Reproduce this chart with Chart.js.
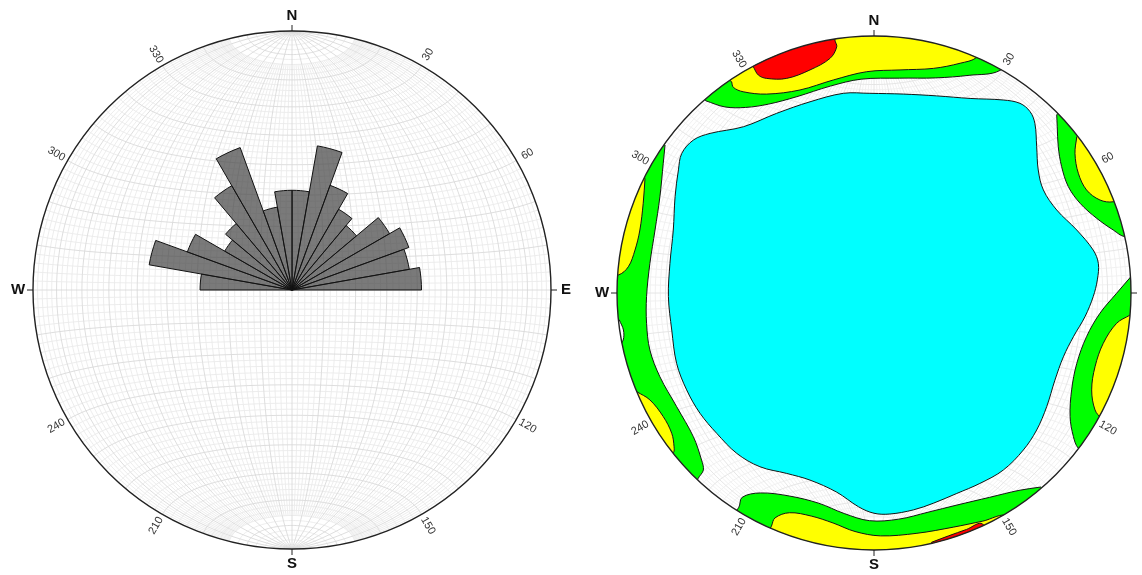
<!DOCTYPE html>
<html>
<head>
<meta charset="utf-8">
<script src="https://cdn.jsdelivr.net/npm/chart.js@4.4.1/dist/chart.umd.min.js"></script>
<style>
  html, body { margin: 0; padding: 0; background: #fff; }
  body { width: 1142px; height: 575px; position: relative; overflow: hidden; }
  .panel { position: absolute; top: 0; }
  #rose_wrap { left: 0; width: 584px; height: 580px; }
  #density_wrap { left: 584px; width: 558px; height: 575px; }
</style>
</head>
<body>
<div class="panel" id="rose_wrap"><canvas id="rose_chart"></canvas></div>
<div class="panel" id="density_wrap"><canvas id="density_chart"></canvas></div>
<script>
// ---- rose diagram: 10 degree azimuth bins, length in % of the net radius
const binStarts = [0, 10, 20, 30, 40, 50, 60, 70, 80, 90, 100, 110, 120, 130, 140, 150, 160, 170,
  180, 190, 200, 210, 220, 230, 240, 250, 260, 270, 280, 290, 300, 310, 320, 330, 340, 350];
const roseValues = [38.5, 56.5, 43, 36, 32.5, 43.5, 48, 46, 50,
  0, 0, 0, 0, 0, 0, 0, 0, 0, 0, 0, 0, 0, 0, 0, 0, 0, 0,
  35.5, 56, 43, 30, 33.5, 46.5, 58.5, 32.5, 38.5];

// ---- labels round the primitive circle
const cardinalAz = [0, 90, 180, 270];
const cardinalLabels = ['N', 'E', 'S', 'W'];
const degreeTicks = [30, 60, 120, 150, 210, 240, 300, 330];

// ---- density contours, net coordinates [x east, y north], primitive radius = 1
const cyanCore = [[-0.016, 0.777], [0.114, 0.774], [0.244, 0.767], [0.374, 0.757], [0.503, 0.751], [0.568, 0.738],
  [0.607, 0.706], [0.626, 0.660], [0.633, 0.569], [0.639, 0.479], [0.659, 0.401], [0.711, 0.323], [0.789, 0.245],
  [0.853, 0.167], [0.873, 0.115], [0.869, 0.051], [0.853, -0.014], [0.821, -0.092], [0.776, -0.170], [0.737, -0.248],
  [0.704, -0.339], [0.672, -0.442], [0.633, -0.533], [0.581, -0.611], [0.503, -0.689], [0.412, -0.741], [0.322, -0.780],
  [0.231, -0.818], [0.153, -0.844], [0.062, -0.860], [0.0, -0.857], [-0.06, -0.832], [-0.145, -0.775], [-0.249, -0.728],
  [-0.340, -0.702], [-0.444, -0.676], [-0.534, -0.624], [-0.612, -0.546], [-0.677, -0.468], [-0.729, -0.377],
  [-0.768, -0.274], [-0.787, -0.144], [-0.800, -0.014], [-0.794, 0.115], [-0.781, 0.245], [-0.774, 0.375],
  [-0.761, 0.479], [-0.748, 0.543], [-0.703, 0.595], [-0.638, 0.621], [-0.508, 0.647], [-0.379, 0.699],
  [-0.249, 0.744], [-0.119, 0.777]];

const greenNorth = [[-0.655, 0.748], [-0.58, 0.724], [-0.50, 0.722], [-0.41, 0.735], [-0.30, 0.764], [-0.17, 0.805],
  [-0.05, 0.832], [0.10, 0.836], [0.24, 0.837], [0.37, 0.847], [0.49, 0.866],
  [0.609, 0.975], [0, 1.2], [-0.739, 0.881]];
const greenNorthEast = [[0.711, 0.693], [0.713, 0.647], [0.717, 0.569], [0.730, 0.492], [0.756, 0.414], [0.802, 0.349],
  [0.866, 0.291], [0.931, 0.245], [0.977, 0.219],
  [1.129, 0.219], [1.060, 0.563], [0.813, 0.813]];
const greenEast = [[1.0, 0.064], [0.944, -0.001], [0.879, -0.079], [0.827, -0.170], [0.789, -0.274], [0.769, -0.377],
  [0.763, -0.481], [0.776, -0.559], [0.795, -0.604],
  [0.906, -0.708], [1.148, -0.351], [1.147, 0.080]];
const greenSouth = [[0.649, -0.755], [0.564, -0.768], [0.45, -0.795], [0.323, -0.825], [0.21, -0.853], [0.096, -0.880],
  [-0.017, -0.886], [-0.116, -0.858], [-0.215, -0.818], [-0.329, -0.790], [-0.442, -0.778], [-0.513, -0.795],
  [-0.527, -0.836],
  [-0.626, -0.964], [0, -1.2], [0.754, -0.868]];
const greenWest = [[-0.813, 0.576], [-0.820, 0.505], [-0.833, 0.375], [-0.852, 0.245], [-0.872, 0.115], [-0.885, -0.014],
  [-0.885, -0.118], [-0.872, -0.222], [-0.833, -0.326], [-0.768, -0.442], [-0.703, -0.559], [-0.671, -0.650],
  [-0.664, -0.689], [-0.684, -0.721],
  [-0.754, -0.868], [-1.195, -0.105], [-0.930, 0.676]];

const yellowNorth = [[-0.554, 0.822], [-0.547, 0.800], [-0.509, 0.783], [-0.418, 0.774], [-0.288, 0.790], [-0.158, 0.829],
  [-0.029, 0.861], [0.101, 0.868], [0.231, 0.874], [0.335, 0.894], [0.400, 0.917],
  [0.504, 1.034], [0, 1.2], [-0.676, 0.930]];
const yellowNorthEast = [[0.789, 0.608], [0.782, 0.543], [0.795, 0.466], [0.827, 0.401], [0.879, 0.362], [0.931, 0.355],
  [1.081, 0.393], [0.906, 0.708]];
const yellowEast = [[0.996, -0.086], [0.944, -0.118], [0.892, -0.196], [0.860, -0.287], [0.847, -0.377], [0.860, -0.455],
  [0.886, -0.488],
  [0.996, -0.575], [1.146, -0.100]];
const yellowSouth = [[-0.399, -0.907], [-0.385, -0.875], [-0.329, -0.855], [-0.244, -0.868], [-0.159, -0.895],
  [-0.074, -0.928], [0.025, -0.945], [0.167, -0.935], [0.309, -0.911], [0.422, -0.888], [0.521, -0.868],
  [0.592, -0.986], [0, -1.2], [-0.468, -1.051]];
const yellowWestUpper = [[-0.891, 0.446], [-0.898, 0.349], [-0.911, 0.245], [-0.930, 0.167], [-0.956, 0.102], [-0.995, 0.070],
  [-1.149, 0.040], [-1.025, 0.522]];
const yellowWestLower = [[-0.923, -0.384], [-0.872, -0.416], [-0.820, -0.481], [-0.787, -0.546], [-0.778, -0.598], [-0.781, -0.621],
  [-0.894, -0.724], [-1.066, -0.431]];

const redNorth = [[-0.470, 0.881], [-0.450, 0.848], [-0.418, 0.835], [-0.340, 0.835], [-0.249, 0.868], [-0.171, 0.913],
  [-0.145, 0.958], [-0.152, 0.984],
  [-0.160, 1.139], [-0.558, 1.006]];
const redSouth = [[0.224, -0.970], [0.29, -0.945], [0.36, -0.920], [0.422, -0.899],
  [0.504, -1.034], [0.259, -1.121]];

const gapWest = [[-0.991, -0.105], [-0.975, -0.144], [-0.976, -0.183], [-0.995, -0.205],
  [-1.076, -0.229], [-1.094, -0.115]];

// ---- equal-area net
function netPoint(lon, lat) {
  const l = lon * Math.PI / 180, p = lat * Math.PI / 180;
  const x = Math.cos(p) * Math.sin(l), y = Math.sin(p), z = Math.cos(p) * Math.cos(l);
  const k = Math.sqrt(1 / (1 + z));
  return [x * k, y * k];
}

function drawNet(ctx, cx, cy, R, minorColor, majorColor) {
  ctx.save();
  ctx.lineWidth = 0.8;
  [false, true].forEach(majorPass => {
    ctx.strokeStyle = majorPass ? majorColor : minorColor;
    // small circles
    for (let lat = -88; lat <= 88; lat += 2) {
      if ((lat % 10 === 0) !== majorPass) continue;
      ctx.beginPath();
      for (let lon = -90; lon <= 90; lon += 2) {
        const [x, y] = netPoint(lon, lat);
        if (lon === -90) ctx.moveTo(cx + x * R, cy - y * R);
        else ctx.lineTo(cx + x * R, cy - y * R);
      }
      ctx.stroke();
    }
    // great circles
    for (let lon = -88; lon <= 88; lon += 2) {
      if ((lon % 10 === 0) !== majorPass) continue;
      const lim = majorPass ? 90 : 76;
      ctx.beginPath();
      for (let lat = -lim; lat <= lim; lat += 2) {
        const [x, y] = netPoint(lon, lat);
        if (lat === -lim) ctx.moveTo(cx + x * R, cy - y * R);
        else ctx.lineTo(cx + x * R, cy - y * R);
      }
      ctx.stroke();
    }
  });
  ctx.restore();
}

function drawFrame(ctx, cx, cy, R) {
  ctx.save();
  ctx.strokeStyle = '#222';
  ctx.lineWidth = 1.4;
  ctx.beginPath();
  ctx.arc(cx, cy, R, 0, 2 * Math.PI);
  ctx.stroke();

  ctx.lineWidth = 1;
  ctx.fillStyle = '#111';
  ctx.textAlign = 'center';
  ctx.textBaseline = 'middle';
  ctx.font = 'bold 15px "Liberation Sans", Arial, sans-serif';
  cardinalAz.forEach((az, i) => {
    const a = az * Math.PI / 180, sx = Math.sin(a), sy = -Math.cos(a);
    ctx.beginPath();
    ctx.moveTo(cx + sx * R, cy + sy * R);
    ctx.lineTo(cx + sx * (R + 6), cy + sy * (R + 6));
    ctx.stroke();
    ctx.fillText(cardinalLabels[i], cx + sx * (R + 15), cy + sy * (R + 15));
  });

  ctx.font = '11px "Liberation Sans", Arial, sans-serif';
  ctx.fillStyle = '#333';
  degreeTicks.forEach(az => {
    const a = az * Math.PI / 180;
    let rot = (((az - 90) % 180) + 180) % 180;
    if (rot > 90) rot -= 180;
    ctx.save();
    ctx.translate(cx + Math.sin(a) * (R + 13), cy - Math.cos(a) * (R + 13));
    ctx.rotate(rot * Math.PI / 180);
    ctx.fillText(String(az), 0, 0);
    ctx.restore();
  });
  ctx.restore();
}

// ---- left: rose diagram on the net
const roseNet = {
  id: 'roseNet',
  beforeDatasetsDraw(chart) {
    const s = chart.scales.r;
    drawNet(chart.ctx, s.xCenter, s.yCenter, s.drawingArea, '#e9e9e9', '#d5d5d5');
  },
  afterDraw(chart) {
    const s = chart.scales.r;
    drawFrame(chart.ctx, s.xCenter, s.yCenter, s.drawingArea);
  }
};

new Chart(document.getElementById('rose_chart'), {
  type: 'polarArea',
  data: {
    labels: binStarts.map(a => a + '°'),
    datasets: [{
      data: roseValues,
      backgroundColor: 'rgba(70,70,70,0.72)',
      borderColor: '#111',
      borderWidth: 1
    }]
  },
  options: {
    responsive: true,
    maintainAspectRatio: false,
    animation: false,
    layout: { padding: { left: 33, right: 33, top: 31, bottom: 31 } },
    scales: {
      r: {
        min: 0, max: 100,
        ticks: { display: false },
        grid: { display: false },
        angleLines: { display: false },
        pointLabels: { display: false }
      }
    },
    plugins: { legend: { display: false }, tooltip: { enabled: false } }
  },
  plugins: [roseNet]
});

// ---- right: density contours
function ring(points) {
  const pts = points.map(([x, y]) => ({ x, y }));
  pts.push({ x: points[0][0], y: points[0][1] });
  return pts;
}

function zone(points, color) {
  return {
    data: ring(points),
    showLine: true,
    fill: 'shape',
    backgroundColor: color,
    borderColor: '#151515',
    borderWidth: 1,
    pointRadius: 0,
    tension: 0.35,
    clip: false
  };
}

// first dataset is drawn on top
const densityDatasets = [
  zone(redNorth, '#ff0000'),
  zone(redSouth, '#ff0000'),
  zone(yellowNorth, '#ffff00'),
  zone(yellowNorthEast, '#ffff00'),
  zone(yellowEast, '#ffff00'),
  zone(yellowSouth, '#ffff00'),
  zone(yellowWestUpper, '#ffff00'),
  zone(yellowWestLower, '#ffff00'),
  zone(gapWest, '#ffffff'),
  zone(greenNorth, '#00ff00'),
  zone(greenNorthEast, '#00ff00'),
  zone(greenEast, '#00ff00'),
  zone(greenSouth, '#00ff00'),
  zone(greenWest, '#00ff00'),
  zone(cyanCore, '#00ffff')
];

function netGeom(chart) {
  const x = chart.scales.x, y = chart.scales.y;
  const cx = x.getPixelForValue(0), cy = y.getPixelForValue(0);
  return { cx, cy, R: x.getPixelForValue(1) - cx };
}

const densityNet = {
  id: 'densityNet',
  beforeDatasetsDraw(chart) {
    const { cx, cy, R } = netGeom(chart);
    const ctx = chart.ctx;
    drawNet(ctx, cx, cy, R, '#eeeeee', '#e0e0e0');
    ctx.save();
    ctx.beginPath();
    ctx.arc(cx, cy, R, 0, 2 * Math.PI);
    ctx.clip();
  },
  afterDatasetsDraw(chart) {
    chart.ctx.restore();
  },
  afterDraw(chart) {
    const { cx, cy, R } = netGeom(chart);
    drawFrame(chart.ctx, cx, cy, R);
  }
};

new Chart(document.getElementById('density_chart'), {
  type: 'scatter',
  data: { datasets: densityDatasets },
  options: {
    responsive: true,
    maintainAspectRatio: false,
    animation: false,
    layout: { padding: { left: 33, right: 11, top: 36, bottom: 25 } },
    elements: { line: { capBezierPoints: false } },
    scales: {
      x: { type: 'linear', min: -1, max: 1, display: false },
      y: { type: 'linear', min: -1, max: 1, display: false }
    },
    plugins: { legend: { display: false }, tooltip: { enabled: false } }
  },
  plugins: [densityNet]
});
</script>
</body>
</html>
